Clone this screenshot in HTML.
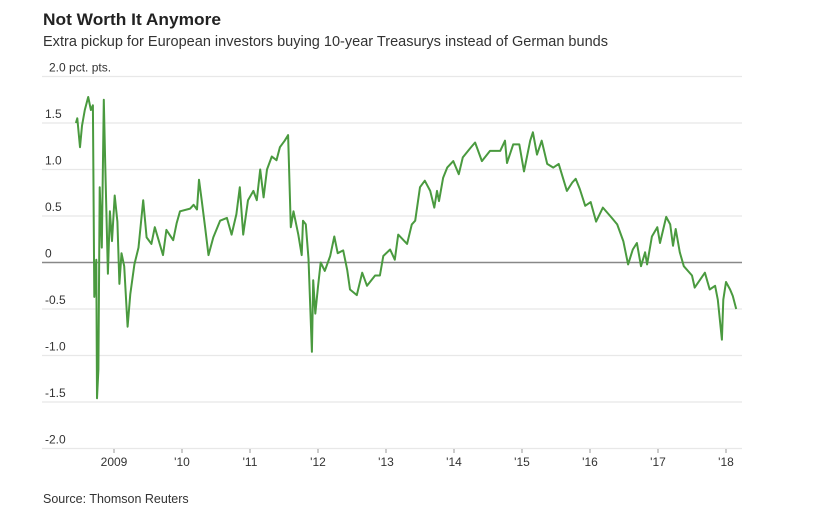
<!DOCTYPE html>
<html><head><meta charset="utf-8"><style>
body{margin:0;background:#fff;width:814px;height:524px;overflow:hidden;font-family:"Liberation Sans",sans-serif}
</style></head><body>
<svg id="chart" width="814" height="524" xmlns="http://www.w3.org/2000/svg" font-family="Liberation Sans, sans-serif">
<text x="43" y="25" font-size="17" font-weight="bold" fill="#222" textLength="178" lengthAdjust="spacingAndGlyphs">Not Worth It Anymore</text>
<text x="43" y="46" font-size="15" fill="#333" textLength="565" lengthAdjust="spacingAndGlyphs">Extra pickup for European investors buying 10-year Treasurys instead of German bunds</text>
<g id="grid"></g>
<g id="xaxis"></g>
<g id="series"></g>
<text x="43" y="503" font-size="12.5" fill="#333">Source: Thomson Reuters</text>
</svg>
<script>
const yTicks=[2,1.5,1,0.5,0,-0.5,-1,-1.5,-2];
const yTickLabels=["2.0 pct. pts.","1.5","1.0","0.5","0","-0.5","-1.0","-1.5","-2.0"];
const xTicks=[2009,2010,2011,2012,2013,2014,2015,2016,2017,2018];
const xTickLabels=["2009","'10","'11","'12","'13","'14","'15","'16","'17","'18"];
const dates=[2008.44,2008.46,2008.50,2008.53,2008.57,2008.62,2008.66,2008.69,2008.71,2008.74,2008.75,2008.77,2008.79,2008.82,2008.85,2008.87,2008.91,2008.94,2008.97,2009.01,2009.05,2009.08,2009.11,2009.15,2009.20,2009.24,2009.30,2009.36,2009.43,2009.48,2009.55,2009.60,2009.72,2009.77,2009.87,2009.92,2009.97,2010.12,2010.17,2010.22,2010.25,2010.29,2010.34,2010.39,2010.46,2010.56,2010.66,2010.73,2010.80,2010.85,2010.90,2010.97,2011.05,2011.10,2011.15,2011.20,2011.25,2011.32,2011.39,2011.44,2011.51,2011.56,2011.60,2011.64,2011.71,2011.76,2011.78,2011.82,2011.86,2011.91,2011.93,2011.96,2012.00,2012.04,2012.10,2012.18,2012.24,2012.29,2012.37,2012.43,2012.47,2012.57,2012.65,2012.72,2012.84,2012.91,2012.96,2013.06,2013.13,2013.18,2013.31,2013.38,2013.43,2013.50,2013.57,2013.65,2013.71,2013.75,2013.78,2013.84,2013.90,2013.99,2014.07,2014.13,2014.24,2014.31,2014.41,2014.53,2014.68,2014.75,2014.78,2014.87,2014.96,2015.03,2015.12,2015.16,2015.22,2015.29,2015.37,2015.46,2015.54,2015.66,2015.74,2015.79,2015.85,2015.93,2016.01,2016.09,2016.19,2016.32,2016.40,2016.49,2016.56,2016.63,2016.69,2016.75,2016.81,2016.84,2016.91,2016.99,2017.03,2017.12,2017.18,2017.22,2017.26,2017.32,2017.38,2017.50,2017.54,2017.69,2017.76,2017.84,2017.88,2017.94,2017.96,2018.00,2018.06,2018.10,2018.15];
const values=[1.50,1.55,1.24,1.47,1.64,1.78,1.64,1.69,-0.37,0.03,-1.46,-1.15,0.81,0.16,1.75,1.07,-0.12,0.55,0.23,0.72,0.44,-0.23,0.10,-0.04,-0.69,-0.34,-0.02,0.16,0.67,0.27,0.20,0.38,0.08,0.35,0.24,0.42,0.55,0.58,0.62,0.57,0.89,0.67,0.38,0.08,0.27,0.45,0.48,0.30,0.52,0.81,0.30,0.67,0.77,0.67,1.00,0.70,1.00,1.14,1.10,1.24,1.31,1.37,0.38,0.55,0.30,0.08,0.45,0.41,0.04,-0.96,-0.19,-0.55,-0.26,0.00,-0.09,0.07,0.28,0.10,0.13,-0.08,-0.29,-0.35,-0.11,-0.25,-0.14,-0.14,0.07,0.14,0.03,0.30,0.20,0.41,0.45,0.81,0.88,0.77,0.59,0.77,0.66,0.91,1.02,1.09,0.95,1.13,1.23,1.29,1.09,1.20,1.20,1.31,1.07,1.27,1.27,0.98,1.31,1.40,1.16,1.31,1.06,1.02,1.06,0.77,0.86,0.90,0.79,0.61,0.65,0.44,0.59,0.48,0.41,0.23,-0.02,0.14,0.21,-0.04,0.11,-0.02,0.28,0.38,0.21,0.49,0.41,0.18,0.36,0.11,-0.04,-0.14,-0.27,-0.11,-0.29,-0.25,-0.40,-0.83,-0.40,-0.21,-0.29,-0.36,-0.50];

const NS="http://www.w3.org/2000/svg";
const X0=42,X1=742;
const xScale=y=>114+(y-2009)*68;
const yScale=v=>262.5-v*93;
const grid=document.getElementById('grid');
yTicks.forEach((t,i)=>{
  const l=document.createElementNS(NS,'line');
  
  
  l.setAttribute('x1',X0);l.setAttribute('x2',X1);
  l.setAttribute('y1',yScale(t));l.setAttribute('y2',yScale(t));
  l.setAttribute('stroke',t===0?'#888':'#e8e8e8');
  l.setAttribute('stroke-width',t===0?1.5:1.2);
  grid.appendChild(l);
  const tx=document.createElementNS(NS,'text');
  
  
  tx.setAttribute('x',t===2?49:45);tx.setAttribute('y',yScale(t)-5);
  tx.setAttribute('font-size','12');tx.setAttribute('fill','#333');
  tx.textContent=yTickLabels[i];
  grid.appendChild(tx);
});
const xa=document.getElementById('xaxis');
xTicks.forEach((t,i)=>{
  const x=xScale(t);
  const tk=document.createElementNS(NS,'line');
  
  
  tk.setAttribute('x1',x);tk.setAttribute('x2',x);tk.setAttribute('y1',449);tk.setAttribute('y2',453);
  tk.setAttribute('stroke','#999');
  xa.appendChild(tk);
  const tx=document.createElementNS(NS,'text');
  
  
  tx.setAttribute('x',x);tx.setAttribute('y',466);tx.setAttribute('text-anchor','middle');
  tx.setAttribute('font-size','12');tx.setAttribute('fill','#333');
  tx.textContent=xTickLabels[i];
  xa.appendChild(tx);
});
const p=document.createElementNS(NS,'path');


p.setAttribute('d',dates.map((d,i)=>(i?'L':'M')+xScale(d).toFixed(1)+','+yScale(values[i]).toFixed(1)).join(''));
p.setAttribute('fill','none');p.setAttribute('stroke','#4a9a3f');p.setAttribute('stroke-width','2');p.setAttribute('stroke-linejoin','round');
document.getElementById('series').appendChild(p);
</script>
</body></html>
